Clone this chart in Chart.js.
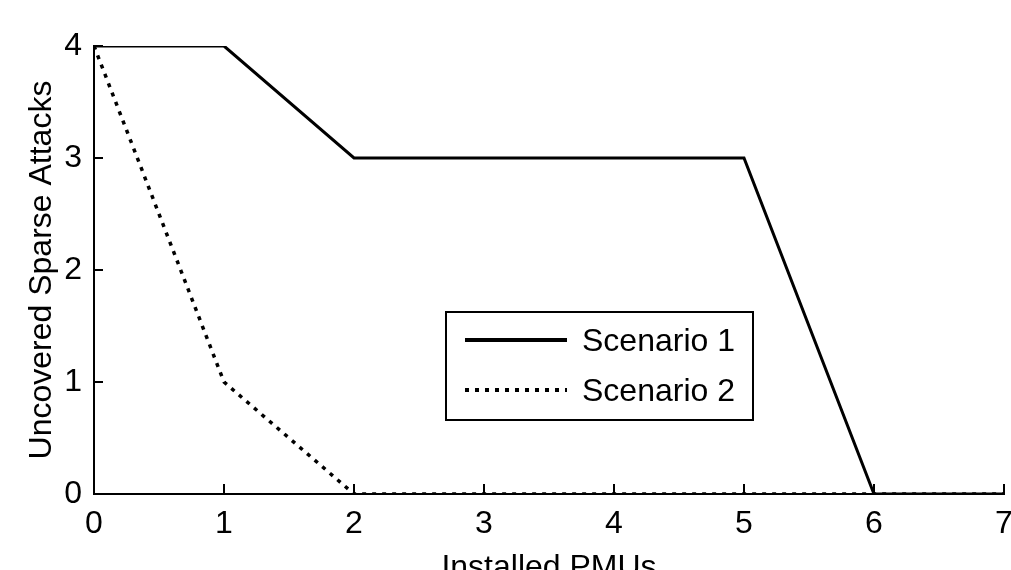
<!DOCTYPE html>
<html>
<head>
<meta charset="utf-8">
<script src="https://cdn.jsdelivr.net/npm/chart.js@4/dist/chart.umd.min.js"></script>
<style>
  html, body { margin: 0; padding: 0; background: #fff; overflow: hidden; }
  #wrap { position: relative; width: 1011px; height: 600px; }
</style>
</head>
<body>
<div id="wrap"><canvas id="c"></canvas></div>
<script>
// ---- data ----
const installedPMUs = [0, 1, 2, 3, 4, 5, 6, 7];
const scenario1 = [4, 4, 3, 3, 3, 3, 0, 0];
const scenario2 = [4, 1, 0, 0, 0, 0, 0, 0];
const seriesLabels = ['Scenario 1', 'Scenario 2'];
const xTitle = 'Installed PMUs';
const yTitle = 'Uncovered Sparse Attacks';

const FONT = '"Liberation Sans", Arial, Helvetica, sans-serif';

function pts(ys) { return installedPMUs.map((x, i) => ({ x: x, y: ys[i] })); }

// inward tick marks
const inwardTicks = {
  id: 'inwardTicks',
  afterDatasetsDraw(chart) {
    const { ctx, chartArea: a, scales: { x, y } } = chart;
    ctx.save();
    ctx.strokeStyle = '#000';
    ctx.lineWidth = 2;
    ctx.beginPath();
    x.ticks.forEach(t => {
      const px = Math.round(x.getPixelForValue(t.value));
      ctx.moveTo(px, a.bottom);
      ctx.lineTo(px, a.bottom - 10);
    });
    y.ticks.forEach(t => {
      const py = Math.round(y.getPixelForValue(t.value));
      ctx.moveTo(a.left, py);
      ctx.lineTo(a.left + 9, py);
    });
    ctx.stroke();
    ctx.restore();
  }
};

// boxed legend inside the plot
const boxLegend = {
  id: 'boxLegend',
  afterDraw(chart, args, opts) {
    const { ctx } = chart;
    const b = opts.box;
    ctx.save();
    ctx.fillStyle = '#fff';
    ctx.fillRect(b.x, b.y, b.w, b.h);
    ctx.strokeStyle = '#000';
    ctx.lineWidth = 2;
    ctx.strokeRect(b.x, b.y, b.w, b.h);
    chart.data.datasets.forEach((ds, i) => {
      const yy = b.y + opts.firstRow + i * opts.rowGap;
      ctx.beginPath();
      ctx.lineWidth = ds.borderDash ? 4 : ds.borderWidth + 1;
      ctx.strokeStyle = ds.borderColor;
      ctx.setLineDash(ds.borderDash || []);
      ctx.moveTo(b.x + opts.lineStart, yy);
      ctx.lineTo(b.x + opts.lineEnd, yy);
      ctx.stroke();
      ctx.setLineDash([]);
      ctx.fillStyle = '#000';
      ctx.font = opts.font;
      ctx.textBaseline = 'middle';
      ctx.textAlign = 'left';
      ctx.fillText(ds.label, b.x + opts.textStart, yy + 2);
    });
    ctx.restore();
  }
};

new Chart(document.getElementById('c'), {
  type: 'line',
  data: {
    datasets: [
      { label: seriesLabels[0], data: pts(scenario1), borderColor: '#000', borderWidth: 3,
        pointRadius: 0, tension: 0, fill: false },
      { label: seriesLabels[1], data: pts(scenario2), borderColor: '#000', borderWidth: 3.5,
        borderDash: [4, 6], pointRadius: 0, tension: 0, fill: false }
    ]
  },
  options: {
    responsive: true,
    maintainAspectRatio: false,
    animation: false,
    layout: { padding: { top: 46, right: 7, bottom: 0, left: 0 } },
    plugins: {
      legend: { display: false },
      tooltip: { enabled: false },
      boxLegend: {
        box: { x: 446, y: 312, w: 307, h: 108 },
        firstRow: 28, rowGap: 50,
        lineStart: 19, lineEnd: 121, textStart: 136,
        font: '32px ' + FONT
      }
    },
    scales: {
      x: {
        type: 'linear', min: 0, max: 7,
        ticks: { stepSize: 1, color: '#000', padding: 11, font: { family: FONT, size: 32 } },
        grid: { display: true, drawOnChartArea: false, drawTicks: false },
        border: { display: true, color: '#000', width: 2 },
        title: { display: true, text: xTitle, color: '#000', font: { family: FONT, size: 32 },
                 padding: { top: 0, bottom: 13 } },
        afterFit(s) { s.height = 106; s.paddingLeft = 0; s.paddingRight = 0; }
      },
      y: {
        min: 0, max: 4,
        ticks: { stepSize: 1, color: '#000', padding: 12, font: { family: FONT, size: 32 } },
        grid: { display: true, drawOnChartArea: false, drawTicks: false },
        border: { display: true, color: '#000', width: 2 },
        title: { display: true, text: yTitle, color: '#000', font: { family: FONT, size: 32 },
                 padding: { top: 23, bottom: 0 } },
        afterFit(s) { s.width = 94; s.paddingTop = 0; s.paddingBottom = 0; }
      }
    }
  },
  plugins: [inwardTicks, boxLegend]
});
</script>
</body>
</html>
